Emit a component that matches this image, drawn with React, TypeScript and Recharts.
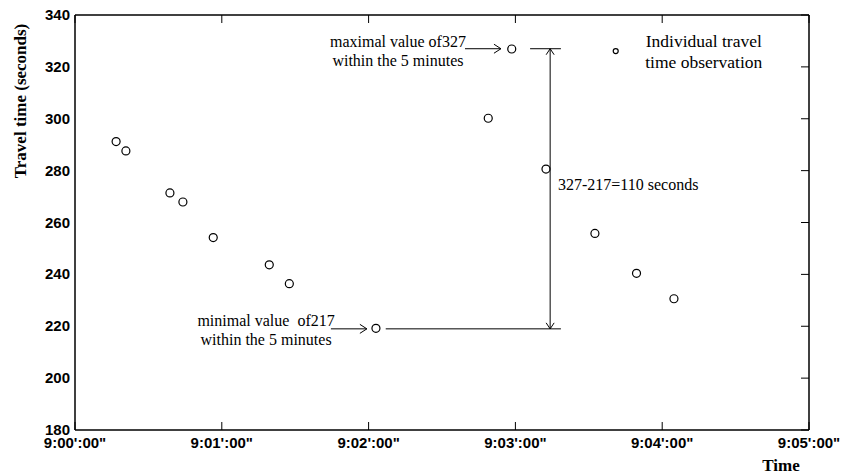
import React from 'react';
import { ScatterChart, Scatter, XAxis, YAxis, ReferenceLine, ReferenceDot } from 'recharts';

// seconds after 9:00:00
const obsSeconds = [16.8, 20.8, 38.8, 44.1, 56.5, 79.4, 87.6, 123, 168.9, 178.5, 192.5, 212.5, 229.5, 244.8];
// travel time (seconds)
const obsTravelTime = [291.2, 287.6, 271.4, 267.9, 254.2, 243.7, 236.4, 219.2, 300.2, 326.9, 280.6, 255.8, 240.4, 230.6];

const xTicks = [0, 60, 120, 180, 240, 300];
const xTickLabels = [`9:00':00"`, `9:01':00"`, `9:02':00"`, `9:03':00"`, `9:04':00"`, `9:05':00"`];
const yTicks = [180, 200, 220, 240, 260, 280, 300, 320, 340];

const maxValue = 327;
const minValue = 219;

const data = obsSeconds.map((t, i) => ({ t, v: obsTravelTime[i] }));

const SANS = '"Liberation Sans", Arial, sans-serif';
const SERIF = '"Liberation Serif", "Times New Roman", serif';

const BottomTick = (props: any) => {
  const { x, y, payload } = props;
  const idx = xTicks.indexOf(payload.value);
  return (
    <g>
      <line x1={x} x2={x} y1={y} y2={y - 8} stroke="#000" strokeWidth={1} />
      <text x={x} y={y + 18} textAnchor="middle" fontFamily={SANS} fontWeight="bold" fontSize={15} fill="#000">
        {xTickLabels[idx]}
      </text>
    </g>
  );
};

const LeftTick = (props: any) => {
  const { x, y, payload } = props;
  return (
    <text x={x - 5} y={y} dy="0.34em" textAnchor="end" fontFamily={SANS} fontWeight="bold" fontSize={15} fill="#000">
      {payload.value}
    </text>
  );
};

const Circle = (props: any) => {
  const { cx, cy } = props;
  return <circle cx={cx} cy={cy} r={4} fill="none" stroke="#000" strokeWidth={1.2} />;
};

// short inward tick at the top edge of a vertical reference line
const topTickShape = (p: any) => {
  const { x1, y1, y2 } = p;
  const top = Math.min(y1, y2);
  return <line x1={x1} x2={x1} y1={top} y2={top + 8} stroke="#000" strokeWidth={1} />;
};

// short inward tick at the right edge of a horizontal reference line
const rightTickShape = (p: any) => {
  const { x1, x2, y1 } = p;
  const right = Math.max(x1, x2);
  return <line x1={right} x2={right - 8} y1={y1} y2={y1} stroke="#000" strokeWidth={1} />;
};

const arrowShape = (atStart: boolean, atEnd: boolean, len: number, half: number) => (p: any) => {
  const { x1, y1, x2, y2 } = p;
  const dx = x2 - x1;
  const dy = y2 - y1;
  const L = Math.sqrt(dx * dx + dy * dy) || 1;
  const ux = dx / L;
  const uy = dy / L;
  const px = -uy;
  const py = ux;
  const head = (hx: number, hy: number, dirx: number, diry: number) => (
    <polyline
      points={`${hx - dirx * len + px * half},${hy - diry * len + py * half} ${hx},${hy} ${hx - dirx * len - px * half},${hy - diry * len - py * half}`}
      fill="none"
      stroke="#000"
      strokeWidth={1}
    />
  );
  return (
    <g>
      <line x1={x1} y1={y1} x2={x2} y2={y2} stroke="#000" strokeWidth={1} />
      {atEnd && head(x2, y2, ux, uy)}
      {atStart && head(x1, y1, -ux, -uy)}
    </g>
  );
};

const textShape = (lines: string[], size: number, anchor: string, lineGap: number) => (p: any) => {
  const { cx, cy } = p;
  return (
    <text x={cx} y={cy} textAnchor={anchor} fontFamily={SERIF} fontSize={size} fill="#000">
      {lines.map((l, i) => (
        <tspan key={i} x={cx} y={cy + i * lineGap} dy="0.35em" style={{ whiteSpace: 'pre' }}>
          {l}
        </tspan>
      ))}
    </text>
  );
};

export default function App() {
  return (
    <div style={{ position: 'absolute', left: 0, top: 0, width: 842, height: 474, background: '#fff' }}>
      <ScatterChart width={842} height={474} margin={{ top: 15, right: 33, bottom: 0, left: 0 }}>
        <XAxis
          dataKey="t"
          type="number"
          domain={[0, 300]}
          ticks={xTicks}
          height={44}
          tickSize={0}
          tickMargin={0}
          tickLine={false}
          axisLine={{ stroke: '#000', strokeWidth: 1.5 }}
          tick={<BottomTick />}
          interval={0}
          label={{
            content: () => (
              <text x={781} y={471} textAnchor="middle" fontFamily={SERIF} fontWeight="bold" fontSize={17} fill="#000">
                Time
              </text>
            ),
          }}
        />
        <YAxis
          dataKey="v"
          type="number"
          domain={[180, 340]}
          ticks={yTicks}
          width={75}
          tickSize={0}
          tickMargin={0}
          tickLine={false}
          axisLine={{ stroke: '#000', strokeWidth: 1.5 }}
          tick={<LeftTick />}
          interval={0}
          label={{
            content: () => (
              <text
                transform="translate(20,101) rotate(-90)"
                textAnchor="middle"
                dy="0.35em"
                fontFamily={SERIF}
                fontWeight="bold"
                fontSize={17}
                fill="#000"
              >
                Travel time (seconds)
              </text>
            ),
          }}
        />

        {/* box: top and right edges */}
        <ReferenceLine y={340} stroke="#000" strokeWidth={1.5} />
        <ReferenceLine x={300} stroke="#000" strokeWidth={1.5} />
        {xTicks.map((t) => (
          <ReferenceLine key={`tt${t}`} x={t} shape={topTickShape} />
        ))}
        {yTicks.map((v) => (
          <ReferenceLine key={`rt${v}`} y={v} shape={rightTickShape} />
        ))}

        <Scatter data={data} shape={<Circle />} isAnimationActive={false} />

        {/* max annotation */}
        <ReferenceLine
          segment={[{ x: 159.4, y: maxValue }, { x: 174.1, y: maxValue }]}
          shape={arrowShape(false, true, 7, 4.5)}
        />
        <ReferenceLine
          segment={[{ x: 186, y: maxValue }, { x: 198.6, y: maxValue }]}
          stroke="#000"
          strokeWidth={1}
        />
        {/* min annotation */}
        <ReferenceLine
          segment={[{ x: 104.6, y: minValue }, { x: 119.3, y: minValue }]}
          shape={arrowShape(false, true, 7, 4.5)}
        />
        <ReferenceLine
          segment={[{ x: 127, y: minValue }, { x: 198.6, y: minValue }]}
          stroke="#000"
          strokeWidth={1}
        />
        {/* range arrow */}
        <ReferenceLine
          segment={[{ x: 194.2, y: maxValue }, { x: 194.2, y: minValue }]}
          shape={arrowShape(true, true, 6, 4)}
        />

        <ReferenceDot
          x={132}
          y={330}
          r={0}
          shape={textShape(['maximal value of327', 'within the 5 minutes'], 16, 'middle', 19)}
        />
        <ReferenceDot
          x={78.1}
          y={222.4}
          r={0}
          shape={textShape(['minimal value  of217', 'within the 5 minutes'], 16, 'middle', 19)}
        />
        <ReferenceDot x={197.4} y={274.5} r={0} shape={textShape(['327-217=110 seconds'], 16, 'start', 19)} />

        {/* legend */}
        <ReferenceDot x={221} y={326.1} r={2.5} fill="none" stroke="#000" strokeWidth={1.2} />
        <ReferenceDot
          x={257}
          y={330}
          r={0}
          shape={textShape(['Individual travel', 'time observation'], 17.5, 'middle', 21)}
        />
      </ScatterChart>
    </div>
  );
}
